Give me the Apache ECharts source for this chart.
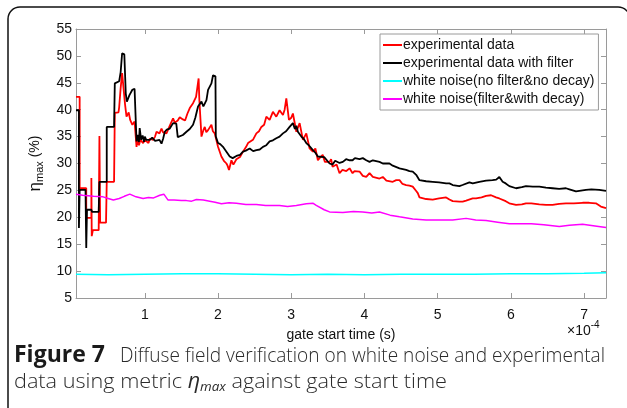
<!DOCTYPE html>
<html>
<head>
<meta charset="utf-8">
<script src="https://cdn.jsdelivr.net/npm/echarts@6/dist/echarts.min.js"></script>
<style>
  html, body { margin: 0; padding: 0; background: #fff; }
  #chart { width: 627px; height: 408px; }
</style>
</head>
<body>
<div id="chart"></div>
<script>
// gate start time in units of 1e-4 s, eta_max in %
const xTickValues = [1, 2, 3, 4, 5, 6, 7];
const xRange = [0.06, 7.3];
const yRange = [5, 55];

const experimentalData = [
  [0.06,42.4],[0.11,42.4],[0.11,25.4],[0.2,25.4],[0.2,19.9],[0.27,19.9],[0.27,27.3],[0.275,16.5],
  [0.29,17.6],[0.37,17.6],[0.38,35.1],[0.39,19.0],[0.47,19.0],[0.48,26.6],[0.58,26.6],[0.59,39.4],
  [0.64,39.5],[0.65,40.5],[0.67,44.0],[0.69,46.8],[0.71,46.5],[0.73,41.0],[0.75,38.7],[0.78,39.5],
  [0.8,38.1],[0.83,37.2],[0.86,37.8],[0.887,33.1],[0.9,34.7],[0.92,33.4],[0.94,34.4],[0.977,33.8],
  [1.0,34.4],[1.023,34.7],[1.05,33.8],[1.068,34.6],[1.113,34.4],[1.14,35.0],[1.16,35.9],[1.2,35.6],
  [1.228,36.5],[1.25,35.8],[1.296,35.6],[1.34,37.0],[1.386,38.4],[1.41,37.6],[1.45,38.0],[1.477,38.6],
  [1.52,38.2],[1.55,38.0],[1.58,39.2],[1.614,40.3],[1.659,41.2],[1.7,42.4],[1.735,45.8],[1.745,41.8],
  [1.774,35.0],[1.8,36.2],[1.819,36.8],[1.84,35.8],[1.864,36.2],[1.89,36.0],[1.91,37.2],[1.93,36.0],
  [1.955,35.6],[1.98,34.2],[2.0,33.1],[2.046,31.3],[2.08,30.5],[2.115,30.0],[2.13,29.6],[2.15,28.8],
  [2.183,30.6],[2.21,29.8],[2.251,30.8],[2.3,31.2],[2.341,32.2],[2.38,33.0],[2.41,33.8],[2.477,34.4],
  [2.524,35.6],[2.56,36.0],[2.592,36.8],[2.63,37.2],[2.66,38.7],[2.705,38.1],[2.75,39.6],[2.796,38.7],
  [2.841,39.9],[2.887,39.0],[2.91,40.0],[2.933,42.1],[2.969,38.1],[3.0,38.5],[3.023,39.3],[3.07,35.9],
  [3.115,37.5],[3.16,34.4],[3.206,35.6],[3.251,32.8],[3.296,32.2],[3.33,32.8],[3.364,30.6],[3.387,31.0],
  [3.43,31.6],[3.46,30.3],[3.524,30.3],[3.545,30.8],[3.565,29.4],[3.62,29.8],[3.66,28.2],[3.7,28.8],
  [3.752,28.6],[3.797,29.1],[3.838,28.2],[3.865,28.6],[3.933,28.5],[3.978,27.7],[4.025,27.5],[4.07,28.2],
  [4.115,27.5],[4.206,27.2],[4.251,27.5],[4.3,26.8],[4.387,26.6],[4.434,26.9],[4.479,26.9],[4.52,26.2],
  [4.57,26.0],[4.615,25.9],[4.66,25.7],[4.707,24.9],[4.729,24.5],[4.752,23.7],[4.843,23.4],[4.933,23.3],
  [5.02,23.5],[5.116,23.7],[5.161,23.3],[5.206,23.0],[5.297,22.9],[5.342,22.9],[5.389,23.1],[5.479,23.5],
  [5.525,23.5],[5.6,23.7],[5.662,24.0],[5.73,24.1],[5.798,23.7],[5.843,23.5],[5.93,23.0],[5.979,22.6],
  [6.071,22.3],[6.15,22.4],[6.207,22.6],[6.28,22.6],[6.389,22.4],[6.48,22.3],[6.57,22.3],[6.66,22.5],
  [6.753,22.6],[6.86,22.6],[6.98,22.7],[7.071,22.7],[7.162,22.6],[7.23,22.0],[7.3,21.7]
];

const experimentalFiltered = [
  [0.06,39.9],[0.1,39.9],[0.1,18.0],[0.11,25.1],[0.19,25.1],[0.2,14.3],[0.21,21.4],[0.27,21.4],
  [0.28,21.0],[0.37,21.0],[0.38,26.6],[0.48,26.6],[0.48,36.8],[0.58,36.8],[0.59,44.9],[0.65,45.3],
  [0.67,47.0],[0.69,50.5],[0.72,50.3],[0.74,43.0],[0.755,41.5],[0.79,42.7],[0.83,43.7],[0.86,43.9],
  [0.887,34.1],[0.9,35.3],[0.92,34.0],[0.93,36.6],[0.95,34.4],[0.97,35.2],[0.99,34.0],[1.0,35.0],
  [1.02,34.4],[1.07,34.4],[1.1,34.8],[1.14,34.2],[1.2,34.4],[1.228,33.7],[1.25,34.6],[1.273,35.9],
  [1.3,36.3],[1.341,36.5],[1.386,37.5],[1.43,37.4],[1.45,34.9],[1.477,34.7],[1.52,35.3],[1.569,35.9],
  [1.614,36.4],[1.659,37.2],[1.69,38.5],[1.727,40.6],[1.774,41.5],[1.8,40.6],[1.842,41.8],[1.864,43.7],
  [1.91,44.9],[1.932,46.4],[1.965,46.2],[1.97,35.0],[2.0,33.8],[2.03,33.6],[2.068,33.1],[2.09,33.4],
  [2.115,32.2],[2.16,31.3],[2.2,31.0],[2.251,31.4],[2.3,31.6],[2.341,32.2],[2.38,32.4],[2.433,32.8],
  [2.48,32.3],[2.524,32.5],[2.57,32.6],[2.614,33.1],[2.66,33.4],[2.705,34.1],[2.75,34.3],[2.796,34.7],
  [2.841,35.0],[2.887,35.6],[2.93,36.0],[2.978,36.8],[3.023,37.5],[3.05,36.4],[3.07,37.0],[3.091,35.9],
  [3.138,35.0],[3.17,34.6],[3.206,33.8],[3.24,33.4],[3.296,32.5],[3.33,32.0],[3.364,31.3],[3.39,31.6],
  [3.45,31.2],[3.524,30.0],[3.565,29.8],[3.6,30.5],[3.66,30.1],[3.705,30.3],[3.75,30.8],[3.797,30.6],
  [3.838,30.6],[3.87,31.0],[3.933,30.8],[3.978,31.0],[4.025,30.6],[4.07,30.3],[4.115,30.6],[4.206,30.3],
  [4.251,30.0],[4.342,30.0],[4.387,29.6],[4.479,29.1],[4.57,28.8],[4.615,28.6],[4.66,28.5],[4.707,27.9],
  [4.752,26.9],[4.843,26.7],[4.933,26.6],[5.02,26.5],[5.116,26.3],[5.161,26.3],[5.206,26.0],[5.297,25.8],
  [5.34,26.0],[5.434,26.5],[5.479,26.3],[5.57,26.6],[5.662,26.8],[5.75,26.9],[5.8,27.0],[5.843,27.5],
  [5.888,26.6],[5.93,26.3],[5.979,25.8],[6.071,25.4],[6.15,25.6],[6.207,25.8],[6.3,25.7],[6.389,25.7],
  [6.48,25.5],[6.57,25.4],[6.66,25.3],[6.753,25.4],[6.8,25.2],[6.89,24.8],[6.98,25.0],[7.026,25.1],
  [7.1,25.2],[7.207,25.1],[7.3,24.9]
];

const noiseNoFilter = [
  [0.06,9.4],[0.5,9.3],[1.0,9.4],[1.5,9.5],[2.0,9.5],[2.5,9.4],[3.0,9.3],[3.5,9.4],
  [4.0,9.3],[4.5,9.4],[5.0,9.4],[5.5,9.4],[6.0,9.5],[6.5,9.5],[7.0,9.6],[7.3,9.7]
];

const noiseFilterDecay = [
  [0.06,24.3],[0.15,24.1],[0.3,23.9],[0.43,23.8],[0.5,23.5],[0.57,23.2],[0.65,23.5],[0.72,23.9],
  [0.795,24.3],[0.88,23.8],[0.977,23.5],[1.05,23.7],[1.12,23.6],[1.205,24.1],[1.26,24.3],[1.318,23.2],
  [1.4,23.2],[1.5,23.1],[1.569,23.1],[1.64,23.0],[1.705,23.3],[1.8,23.2],[1.887,23.0],[1.96,22.8],
  [2.046,22.5],[2.15,22.7],[2.251,22.6],[2.38,22.4],[2.524,22.4],[2.65,22.2],[2.841,22.2],[2.95,22.0],
  [3.07,22.2],[3.206,22.5],[3.3,22.6],[3.342,22.2],[3.45,21.4],[3.524,21.0],[3.705,20.9],[3.85,21.1],
  [3.978,21.0],[4.1,20.8],[4.206,21.0],[4.35,20.4],[4.479,20.1],[4.66,19.7],[4.843,19.5],[5.02,19.5],
  [5.206,19.5],[5.389,19.8],[5.52,19.5],[5.662,19.4],[5.82,19.1],[5.979,18.8],[6.12,18.8],[6.28,18.8],
  [6.45,18.6],[6.662,18.3],[6.8,18.5],[6.98,18.7],[7.15,18.4],[7.3,18.1]
];

const seriesNames = [
  'experimental data',
  'experimental data with filter',
  'white noise(no filter&no decay)',
  'white noise(filter&with decay)'
];
const seriesColors = ['#ff0000', '#000000', '#00ffff', '#ff00ff'];
const seriesData = [experimentalData, experimentalFiltered, noiseNoFilter, noiseFilterDecay];

const captionLabel = 'Figure 7';
const captionLine1 = 'Diffuse field verification on white noise and experimental';
const captionLine2Start = 'data using metric ';
const captionLine2End = ' against gate start time';

const AXIS_GRAY = '#9a9a9a';
const TICK_FONT = '"Liberation Sans", Arial, sans-serif';
const CAPTION_FONT = '"Open Sans", "Noto Sans", sans-serif';
const CAPTION_SIZE = 21;

// horizontal scale so each caption line spans its column width
const measureCtx = document.createElement('canvas').getContext('2d');
function textWidth(str, font) { measureCtx.font = font; return measureCtx.measureText(str).width; }
const bodyFont = '300 ' + CAPTION_SIZE + 'px ' + CAPTION_FONT;
const line1Scale = 485 / textWidth(captionLine1, bodyFont);
const line2Width = textWidth(captionLine2Start + captionLine2End, bodyFont) +
  textWidth('η', 'italic ' + CAPTION_SIZE + 'px ' + CAPTION_FONT) +
  textWidth('max', 'italic 13px ' + CAPTION_FONT);
const line2Scale = 433 / line2Width;

const chart = echarts.init(document.getElementById('chart'), null, { renderer: 'canvas' });

function xAxisBase(position, showLabels) {
  return {
    type: 'value',
    position: position,
    min: xRange[0],
    max: xRange[1],
    axisLine: { show: true, onZero: false, lineStyle: { color: AXIS_GRAY, width: 1 } },
    axisTick: { show: true, inside: true, length: 5, customValues: xTickValues, lineStyle: { color: AXIS_GRAY } },
    axisLabel: {
      show: showLabels, customValues: xTickValues, color: '#111', fontSize: 14,
      fontFamily: TICK_FONT, margin: 10
    },
    splitLine: { show: false }
  };
}

function yAxisBase(position, showLabels) {
  return {
    type: 'value',
    position: position,
    min: yRange[0],
    max: yRange[1],
    interval: 5,
    axisLine: { show: true, onZero: false, lineStyle: { color: AXIS_GRAY, width: 1 } },
    axisTick: { show: true, inside: true, length: 5, lineStyle: { color: AXIS_GRAY } },
    axisLabel: { show: showLabels, color: '#111', fontSize: 14, fontFamily: TICK_FONT, margin: 4 },
    splitLine: { show: false }
  };
}

const xBottom = Object.assign(xAxisBase('bottom', true), {
  name: 'gate start time (s)',
  nameLocation: 'middle',
  nameGap: 30,
  nameTextStyle: { color: '#111', fontSize: 14, fontFamily: TICK_FONT }
});
const xTop = xAxisBase('top', false);

const yLeft = Object.assign(yAxisBase('left', true), {
  name: '{e|η}{s|max}{p| (%)}',
  nameLocation: 'middle',
  nameRotate: 90,
  nameGap: 30,
  nameTextStyle: {
    color: '#111',
    fontFamily: TICK_FONT,
    rich: {
      e: { fontSize: 17, fontFamily: TICK_FONT, color: '#111', lineHeight: 20 },
      s: { fontSize: 11, fontFamily: TICK_FONT, color: '#111', lineHeight: 20, padding: [9, 0, 0, 0] },
      p: { fontSize: 14, fontFamily: TICK_FONT, color: '#111', lineHeight: 20 }
    }
  }
});
const yRight = yAxisBase('right', false);

chart.setOption({
  animation: false,
  backgroundColor: '#ffffff',
  grid: { left: 76, top: 29, width: 530, height: 269, containLabel: false },
  xAxis: [xBottom, xTop],
  yAxis: [yLeft, yRight],
  legend: {
    orient: 'vertical',
    left: 380,
    top: 34,
    width: 221,
    padding: [2, 4, 2, 3],
    itemGap: 0,
    itemWidth: 19,
    itemHeight: 2,
    icon: 'rect',
    backgroundColor: '#ffffff',
    borderColor: AXIS_GRAY,
    borderWidth: 1,
    borderRadius: 0,
    textStyle: { color: '#111', fontSize: 14, fontFamily: TICK_FONT, lineHeight: 18, padding: [0, 0, 0, -4] },
    data: seriesNames
  },
  series: seriesData.map((d, i) => ({
    name: seriesNames[i],
    type: 'line',
    data: d,
    xAxisIndex: 0,
    yAxisIndex: 0,
    showSymbol: false,
    symbol: 'none',
    clip: true,
    color: seriesColors[i],
    lineStyle: { color: seriesColors[i], width: i < 2 ? 1.8 : 1.5 },
    z: 2 + i
  })),
  graphic: [
    {
      type: 'rect',
      shape: { x: 8, y: 7, width: 622, height: 430, r: 12 },
      style: { fill: 'none', stroke: '#111', lineWidth: 1.5 },
      silent: true
    },
    {
      type: 'text',
      left: 567,
      top: 318,
      style: {
        text: '{a|×10}{b|-4}',
        rich: {
          a: { fontSize: 14, fontFamily: TICK_FONT, fill: '#111', lineHeight: 20, padding: [6, 0, 0, 0] },
          b: { fontSize: 10, fontFamily: TICK_FONT, fill: '#111', lineHeight: 20, padding: [0, 0, 6, 0] }
        }
      },
      silent: true
    },
    {
      type: 'text',
      x: 14,
      y: 367,
      style: {
        text: captionLabel,
        font: 'bold 23px ' + CAPTION_FONT,
        fill: '#1a1a1a',
        verticalAlign: 'bottom'
      },
      silent: true
    },
    {
      type: 'text',
      x: 120,
      y: 367,
      scaleX: line1Scale,
      style: {
        text: captionLine1,
        font: bodyFont,
        fill: '#2a2a2a',
        verticalAlign: 'bottom'
      },
      silent: true
    },
    {
      type: 'text',
      x: 14,
      y: 396,
      scaleX: line2Scale,
      style: {
        text: captionLine2Start + '{i|η}{s|max}' + captionLine2End,
        font: bodyFont,
        fill: '#2a2a2a',
        verticalAlign: 'bottom',
        rich: {
          i: { fontStyle: 'italic', fontSize: CAPTION_SIZE, fontFamily: CAPTION_FONT, fill: '#2a2a2a', lineHeight: 28 },
          s: { fontStyle: 'italic', fontSize: 13, fontFamily: CAPTION_FONT, fill: '#2a2a2a', lineHeight: 28, padding: [10, 0, 0, 0] }
        }
      },
      silent: true
    }
  ]
});
</script>
</body>
</html>
